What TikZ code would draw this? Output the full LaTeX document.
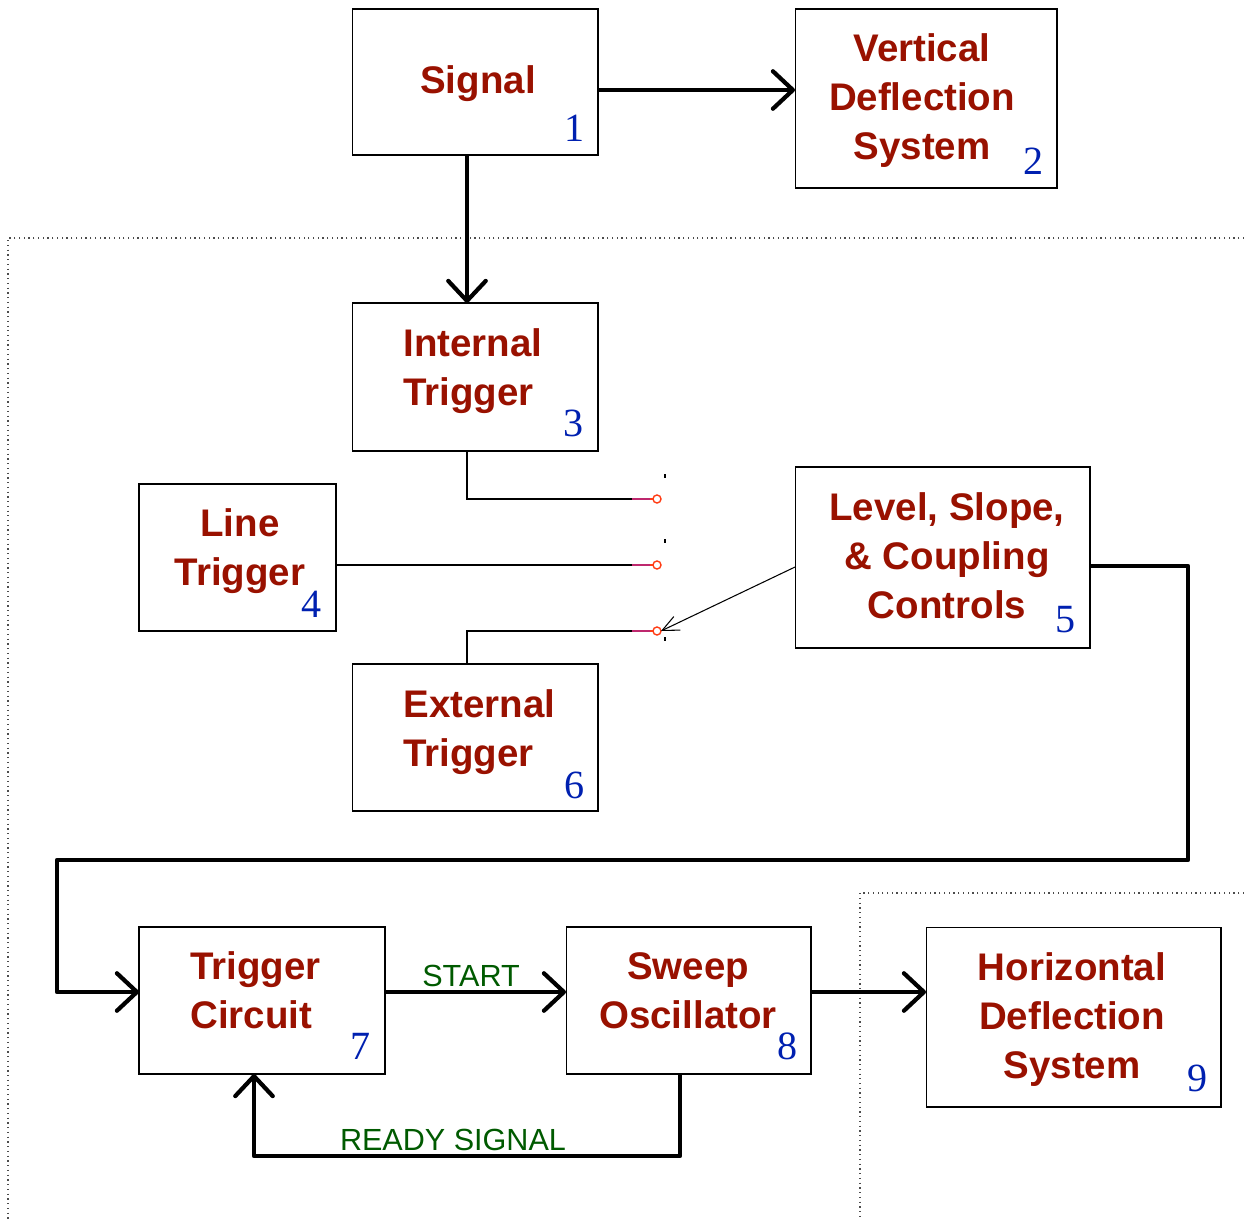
\documentclass[tikz,border=0pt]{standalone}
\usepackage{fontspec}
\usetikzlibrary{arrows.meta}
\newfontfamily\labelfont{Liberation Sans}
\newfontfamily\numfont{Liberation Serif}
\definecolor{boxred}{RGB}{153,17,0}
\definecolor{numblue}{RGB}{0,32,176}
\definecolor{labgreen}{RGB}{0,90,0}
\definecolor{swmag}{RGB}{190,40,110}
\definecolor{swred}{RGB}{255,60,20}
\tikzset{
  box/.style={draw, line width=0.6pt, inner sep=0pt, outer sep=0pt},
  boxtext/.style={inner sep=0pt, text=boxred, font=\labelfont\bfseries\fontsize{21.9}{27.9}\selectfont},
  boxnum/.style={inner sep=0pt, text=numblue, font=\numfont\fontsize{22.8}{24}\selectfont},
  sigtext/.style={inner sep=0pt, text=labgreen, font=\labelfont\fontsize{17.4}{20}\selectfont},
  heavy/.style={line width=2.4pt, line join=round},
  heavyarrow/.style={heavy, -{Straight Barb[round,length=4mm,width=7.5mm]}},
  fence/.style={dotted, line width=0.7pt, black!70},
  contact/.style={circle, draw=swred, line width=0.8pt, minimum size=0.16cm, inner sep=0pt, outer sep=0pt},
}
\begin{document}
\begin{tikzpicture}[x=0.02cm, y=-0.02cm]
\useasboundingbox (0,0) rectangle (1244,1220);

% dotted enclosures
\draw[fence] (1244,238) -- (8,238) -- (8,1220);
\draw[fence] (1244,893) -- (860,893) -- (860,1220);

% blocks
\node[box, minimum width=4.92cm, minimum height=2.92cm] (sig) at (475,82) {};
\node[box, minimum width=5.24cm, minimum height=3.58cm] (vert) at (926,98.5) {};
\node[box, minimum width=4.92cm, minimum height=2.96cm] (int) at (475,377) {};
\node[box, minimum width=3.94cm, minimum height=2.94cm] (line) at (237.5,557.5) {};
\node[box, minimum width=5.90cm, minimum height=3.62cm] (lev) at (942.5,557.5) {};
\node[box, minimum width=4.92cm, minimum height=2.94cm] (ext) at (475,737.5) {};
\node[box, minimum width=4.92cm, minimum height=2.94cm] (trig) at (262,1000.5) {};
\node[box, minimum width=4.90cm, minimum height=2.94cm] (sweep) at (688.5,1000.5) {};
\node[box, minimum width=5.90cm, minimum height=3.60cm] (hor) at (1073.5,1017) {};

% block texts
\node[boxtext] (sigtxt) at (478,84) {Signal};
\node[boxtext, align=center] (verttxt) at (922,101) {Vertical\\Deflection\\System};
\node[boxtext, align=left, anchor=west] (inttxt) at (403,371.5) {Internal\\Trigger};
\node[boxtext, align=center] (linetxt) at (240,551.5) {Line\\Trigger};
\node[boxtext, align=center] (levtxt) at (947,556) {Level, Slope,\\\& Coupling\\Controls};
\node[boxtext, align=left, anchor=west] (exttxt) at (403,732.5) {External\\Trigger};
\node[boxtext, align=left, anchor=west] (trigtxt) at (190,990.5) {Trigger\\Circuit};
\node[boxtext, align=center] (sweeptxt) at (688,990.5) {Sweep\\Oscillator};
\node[boxtext, align=center] (hortxt) at (1072,1019.5) {Horizontal\\Deflection\\System};

% block numbers
\node[boxnum] (n1) at (575,128) {1};
\node[boxnum] (n2) at (1034,161) {2};
\node[boxnum] (n3) at (574,423) {3};
\node[boxnum] (n4) at (312,604) {4};
\node[boxnum] (n5) at (1066,620) {5};
\node[boxnum] (n6) at (575,785) {6};
\node[boxnum] (n7) at (361,1046) {7};
\node[boxnum] (n8) at (788,1046) {8};
\node[boxnum] (n9) at (1197,1078) {9};

% trigger source switch
\node[contact] (c1) at (657,499) {};
\node[contact] (c2) at (657,565) {};
\node[contact] (c3) at (657,631) {};
\draw[line width=0.6pt] ([xshift=-0.16cm]int.south) |- ([xshift=-0.5cm]c1.center);
\draw[line width=0.6pt] (line.east |- c2) -- ([xshift=-0.5cm]c2.center);
\draw[line width=0.6pt] ([xshift=-0.16cm]ext.north) |- ([xshift=-0.5cm]c3.center);
\foreach \c in {c1,c2,c3} {
  \draw[swmag, line width=1pt] ([xshift=-0.5cm]\c.center) -- ([xshift=-0.14cm]\c.center);
  \draw[swred, line width=1pt] ([xshift=-0.14cm]\c.center) -- (\c.west);
}
\foreach \y in {474,539,637}
  \draw[line width=1.2pt] (665,\y) -- (665,\y+4);
\draw[line width=0.6pt, -{Straight Barb[length=3.3mm,width=3mm]}] (lev.west |- 0,567) -- (c3.east);

% signal paths
\draw[heavyarrow] (sig.east |- 0,90) -- (vert.west |- 0,90);
\draw[heavyarrow] ([xshift=-0.16cm]sig.south) -- ([xshift=-0.16cm]int.north);
\draw[heavyarrow] (lev.east |- 0,566) -| (1188,860) -| (57,992) -- (trig.west |- 0,992);
\draw[heavyarrow] (trig.east |- 0,992) -- (sweep.west |- 0,992);
\draw[heavyarrow] (sweep.east |- 0,992) -- (hor.west |- 0,992);
\draw[heavyarrow] (sweep.south -| 680,0) |- (254,1156) -- (trig.south -| 254,0);

\node[sigtext] (start) at (471,976) {START};
\node[sigtext] (ready) at (453,1140) {READY SIGNAL};
\end{tikzpicture}
\end{document}
